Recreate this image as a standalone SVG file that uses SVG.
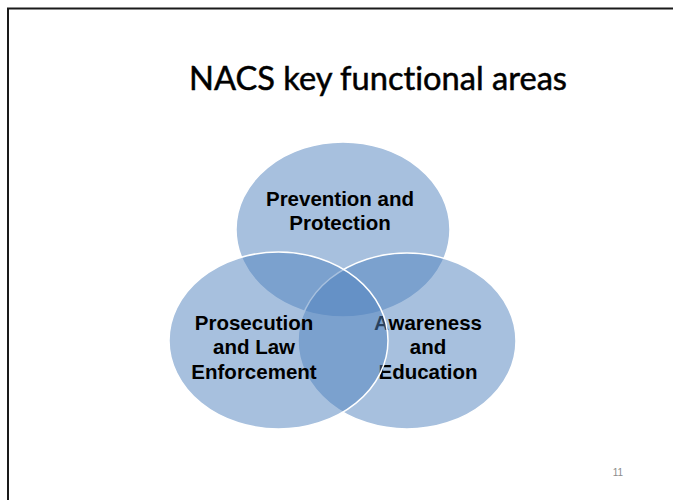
<svg xmlns="http://www.w3.org/2000/svg" width="673" height="500" viewBox="0 0 673 500">
  <style>
    .frame { fill: none; stroke: #1a1a1a; stroke-width: 2; }
    .title { font-family: Lato, "Liberation Sans", sans-serif; font-size: 32px; fill: #000; stroke: #000; stroke-width: 0.5; font-variant-ligatures: none; font-feature-settings: "liga" 0, "dlig" 0; }
    .venn { fill: #4f81bd; fill-opacity: 0.5; stroke: #ffffff; stroke-width: 1.5; }
    .label { font-family: "Liberation Sans", Arial, sans-serif; font-size: 20.5px; font-weight: bold; fill: #000; text-anchor: middle; }
    .pagenum { font-family: "Liberation Sans", Arial, sans-serif; font-size: 10px; fill: #8c8c8c; text-anchor: middle; }
  </style>
  <rect width="673" height="500" fill="#ffffff"/>
  <!-- slide frame -->
  <path class="frame" d="M8,500 V8.5 H673"/>
  <text class="title" x="189" y="90" textLength="378" lengthAdjust="spacingAndGlyphs">NACS key functional areas</text>

  <g id="prevention">
    <ellipse class="venn" cx="343" cy="229.5" rx="107" ry="87.5"/>
    <text class="label" x="340" y="205.5">Prevention and</text>
    <text class="label" x="340" y="230">Protection</text>
  </g>
  <g id="awareness">
    <ellipse class="venn" cx="407" cy="341" rx="109" ry="88"/>
    <text class="label" x="428" y="330">Awareness</text>
    <text class="label" x="428" y="354">and</text>
    <text class="label" x="428" y="378.5">Education</text>
  </g>
  <g id="prosecution">
    <ellipse class="venn" cx="278.5" cy="340.5" rx="109.5" ry="88.5"/>
    <text class="label" x="254" y="330">Prosecution</text>
    <text class="label" x="254" y="354">and Law</text>
    <text class="label" x="254" y="378.5">Enforcement</text>
  </g>

  <text class="pagenum" x="618" y="476">11</text>
</svg>
